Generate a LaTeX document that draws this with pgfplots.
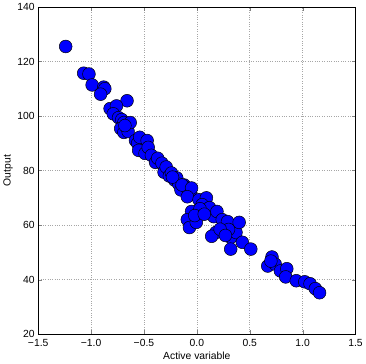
\documentclass[border=0pt]{standalone}
\usepackage{fontspec}
\setmainfont{Liberation Sans}
\usepackage{pgfplots}
\pgfplotsset{compat=1.18}
\definecolor{dotBlue}{RGB}{0,0,255}

\begin{document}
\begin{tikzpicture}
\begin{axis}[
 scale only axis,width=321bp,height=331bp,
 xmin=-1.5,xmax=1.5,ymin=20,ymax=140,
 xtick={-1.5,-1,-0.5,0,0.5,1,1.5},
 xticklabels={−1.5,−1.0,−0.5,0.0,0.5,1.0,1.5},
 ytick={20,40,60,80,100,120,140},
 yticklabels={20,40,60,80,100,120,140},
 tick label style={font=\fontsize{10.5}{12}\selectfont},
 xticklabel style={yshift=-1.5bp},
 label style={font=\fontsize{10.5}{12}\selectfont},
 xlabel={Active variable},ylabel={Output},
 xlabel style={yshift=1bp},ylabel style={yshift=-2bp},
 tick align=inside,major tick length=4bp,
 axis line style={black,line width=0.8pt},
 grid=major,grid style={gray!70,dotted,line width=0.6pt},
 clip=false]
\addplot[only marks,mark=*,mark size=6.5pt,mark options={fill=dotBlue,draw=black,line width=0.5pt}] coordinates {
(-1.24,125.5) (-1.07,115.7) (-1.02,115.4) (-0.99,111.4) (-0.88,110.6) (-0.87,110)
(-0.91,108) (-0.66,105.6) (-0.82,102.7) (-0.76,103.7) (-0.79,100.8) (-0.74,99.4)
(-0.71,98.7) (-0.69,97.6) (-0.72,95.4) (-0.69,94) (-0.65,94.3) (-0.63,97.6)
(-0.68,96.5) (-0.58,91) (-0.56,90) (-0.54,92.2) (-0.47,91) (-0.55,87.4)
(-0.49,86.3) (-0.46,88.5) (-0.43,85.6) (-0.39,83) (-0.37,84.5) (-0.33,82.7)
(-0.31,79.4) (-0.29,81.3) (-0.26,78) (-0.24,79.1) (-0.21,76.5) (-0.19,77.3)
(-0.17,75) (-0.15,72.9) (-0.12,74.7) (-0.09,73.6) (-0.06,71.8)
(-0.23,77.6) (-0.14,74.7) (-0.05,73.6) (-0.09,70.4) (0.02,69.3) (0.09,70)
(0.05,67.5) (-0.05,65) (-0.09,62) (-0.07,59.1) (-0.005,61) (0.12,66.4)
(0.16,63.1) (0.19,65) (0.24,62) (0.29,61.3) (0.18,57.3) (0.14,55.9)
(0.32,55.5) (0.37,57.3) (0.40,61) (0.30,58.4) (0.43,53.7) (0.32,51.2)
(0.51,51.2) (0.03,66) (-0.02,63.5) (0.07,64) (0.22,58.5) (0.27,56.2)
(0.71,48.3) (0.67,45) (0.74,45.7) (0.79,43.2) (0.85,44) (0.84,41)
(0.94,39.6) (1.02,39.2) (1.07,38.5) (1.12,36.7) (1.16,35.2) (0.70,46.8)
};
\end{axis}
\path (current axis.south west) ++(-37bp,-30bp);
\path (current axis.north east) ++(8bp,5bp);
\end{tikzpicture}
\end{document}
